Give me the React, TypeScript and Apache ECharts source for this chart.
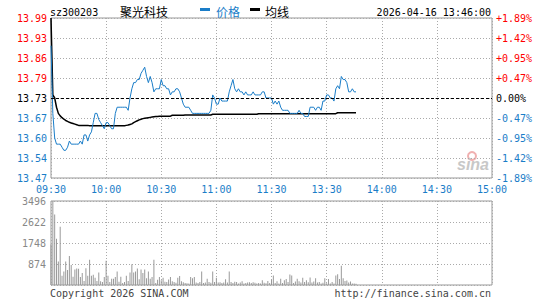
import React, { useEffect, useRef } from "react";
import * as echarts from "echarts";

const stockCode = "sz300203";
const stockName = "聚光科技";
const legendPrice = "价格";
const legendAvg = "均线";
const timestamp = "2026-04-16 13:46:00";
const copyrightText = "Copyright 2026 SINA.COM";
const siteText = "http://finance.sina.com.cn";
const prevClose = 13.73;
const tickStep = 0.065;
const priceTickLabels = ["13.47", "13.54", "13.60", "13.67", "13.73", "13.79", "13.86", "13.93", "13.99"];
const pctTickLabels = ["-1.89%", "-1.42%", "-0.95%", "-0.47%", "0.00%", "+0.47%", "+0.95%", "+1.42%", "+1.89%"];
const timeTickLabels = ["09:30", "10:00", "10:30", "11:00", "11:30", "13:30", "14:00", "14:30", "15:00"];
const volumeMax = 3496;
const volumeInterval = 874;

const prices = [
  13.90, 13.68, 13.60, 13.58, 13.58, 13.58, 13.57, 13.56, 13.56, 13.57,
  13.59, 13.58, 13.58, 13.58, 13.58, 13.58, 13.59, 13.58, 13.61, 13.61,
  13.59, 13.61, 13.62, 13.65, 13.68, 13.68, 13.66, 13.65, 13.64, 13.63,
  13.65, 13.65, 13.64, 13.63, 13.63, 13.68, 13.70, 13.70, 13.70, 13.70,
  13.70, 13.70, 13.69, 13.73, 13.76, 13.78, 13.78, 13.79, 13.79, 13.81,
  13.82, 13.83, 13.80, 13.78, 13.80, 13.78, 13.75, 13.76, 13.76, 13.76,
  13.79, 13.77, 13.77, 13.76, 13.76, 13.74, 13.75, 13.75, 13.76, 13.76,
  13.75, 13.73, 13.71, 13.70, 13.70, 13.70, 13.69, 13.68, 13.68, 13.68,
  13.68, 13.68, 13.68, 13.68, 13.68, 13.68, 13.68, 13.69, 13.74, 13.73,
  13.71, 13.71, 13.73, 13.72, 13.72, 13.72, 13.72, 13.75, 13.77, 13.79,
  13.76, 13.75, 13.76, 13.75, 13.75, 13.74, 13.75, 13.74, 13.74, 13.74,
  13.75, 13.74, 13.74, 13.74, 13.74, 13.75, 13.75, 13.73, 13.73, 13.73,
  13.73, 13.71, 13.72, 13.71, 13.72, 13.70, 13.69, 13.69, 13.69, 13.69,
  13.68, 13.68, 13.68, 13.68, 13.68, 13.69, 13.68, 13.68, 13.67, 13.67,
  13.67, 13.70, 13.70, 13.70, 13.69, 13.70, 13.70, 13.69, 13.72, 13.72,
  13.74, 13.74, 13.73, 13.73, 13.72, 13.76, 13.77, 13.76, 13.80, 13.79,
  13.79, 13.78, 13.75, 13.75, 13.76, 13.75, 13.75,
];

const avgPrices = [
  13.99, 13.74, 13.73, 13.70, 13.68, 13.672, 13.666, 13.661, 13.657, 13.654,
  13.651, 13.649, 13.647, 13.645, 13.643, 13.641, 13.641, 13.641, 13.641, 13.641,
  13.641, 13.640, 13.640, 13.640, 13.640, 13.640, 13.640, 13.640, 13.640, 13.640,
  13.640, 13.640, 13.640, 13.640, 13.640, 13.640, 13.640, 13.640, 13.640, 13.640,
  13.640, 13.641, 13.642, 13.644, 13.646, 13.650, 13.653, 13.656, 13.659, 13.661,
  13.663, 13.664, 13.665, 13.666, 13.667, 13.668, 13.669, 13.670, 13.670, 13.671,
  13.671, 13.671, 13.671, 13.671, 13.671, 13.671, 13.674, 13.674, 13.674, 13.674,
  13.674, 13.674, 13.674, 13.675, 13.675, 13.675, 13.675, 13.675, 13.675, 13.675,
  13.675, 13.675, 13.675, 13.675, 13.675, 13.675, 13.675, 13.675, 13.677, 13.677,
  13.677, 13.677, 13.677, 13.677, 13.677, 13.677, 13.677, 13.677, 13.677, 13.677,
  13.677, 13.677, 13.677, 13.677, 13.677, 13.677, 13.677, 13.677, 13.677, 13.677,
  13.677, 13.677, 13.677, 13.679, 13.679, 13.679, 13.679, 13.679, 13.679, 13.679,
  13.679, 13.679, 13.679, 13.679, 13.679, 13.679, 13.679, 13.679, 13.679, 13.679,
  13.679, 13.679, 13.679, 13.679, 13.679, 13.679, 13.679, 13.679, 13.679, 13.679,
  13.679, 13.679, 13.679, 13.679, 13.679, 13.679, 13.679, 13.679, 13.679, 13.679,
  13.679, 13.679, 13.679, 13.679, 13.679, 13.679, 13.682, 13.682, 13.682, 13.682,
  13.682, 13.682, 13.682, 13.682, 13.682, 13.682, 13.682,
];

const volumes = [
  1690, 3496, 2930, 1930, 980, 2420, 380, 560, 980, 620,
  1210, 830, 340, 640, 690, 680, 330, 500, 170, 700,
  380, 1050, 380, 430, 300, 170, 520, 160, 120, 330,
  1010, 380, 120, 260, 260, 330, 560, 140, 340, 80,
  120, 380, 170, 520, 860, 520, 560, 690, 240, 640,
  500, 640, 280, 560, 260, 330, 1050, 80, 220, 330,
  200, 300, 140, 120, 230, 330, 160, 120, 90, 300,
  370, 160, 110, 80, 70, 60, 330, 280, 330, 100,
  80, 120, 560, 80, 100, 260, 120, 90, 560, 120,
  300, 100, 110, 80, 100, 240, 100, 560, 120, 80,
  140, 120, 60, 100, 160, 60, 80, 100, 110, 80,
  110, 90, 60, 80, 60, 200, 90, 70, 170, 80,
  230, 400, 80, 160, 60, 260, 80, 200, 250, 120,
  440, 400, 80, 150, 260, 160, 100, 300, 120, 200,
  110, 310, 100, 150, 280, 100, 120, 60, 90, 280,
  70, 250, 60, 120, 60, 400, 450, 250, 800, 280,
  170, 190, 100, 150, 60, 60, 50,
];

const BLUE = "#1a7dc8";
const RED = "#ff0000";
const MONO = "'DejaVu Sans Mono', monospace";
const CJK = "'Noto Sans CJK SC', sans-serif";

export default function App() {
  const ref = useRef<HTMLDivElement>(null);

  useEffect(() => {
    if (!ref.current) return;
    const chart = echarts.init(ref.current, undefined, { renderer: "svg" });
    const toY = (p: number) => (p - prevClose) / tickStep;
    const dotted = { color: "#aaa", type: [1, 2], width: 1 };
    const richStyles = {
      r: { color: RED, fontFamily: MONO, fontSize: 10 },
      k: { color: "#000", fontFamily: MONO, fontSize: 10 },
      b: { color: BLUE, fontFamily: MONO, fontSize: 10 },
    };
    const styleKey = (v: number) => (v > 0.5 ? "r" : v < -0.5 ? "b" : "k");

    const txt = (x: number, y: number, text: string, fill: string, font: string, align = "left") => ({
      type: "text",
      x,
      y,
      silent: true,
      style: {
        text,
        fill,
        font,
        align,
        textAlign: align,
        verticalAlign: "middle",
        textVerticalAlign: "middle",
      },
    });

    const option = {
      animation: false,
      grid: [
        { left: 51, top: 18, width: 441, height: 160, show: true, borderColor: "#999", borderWidth: 1 },
        { left: 51, top: 201, width: 441, height: 84, show: true, borderColor: "#999", borderWidth: 1 },
      ],
      xAxis: [
        {
          type: "value",
          gridIndex: 0,
          min: 0,
          max: 240,
          interval: 30,
          axisLine: { show: false },
          axisTick: { show: false },
          axisLabel: {
            show: true,
            margin: 6,
            showMinLabel: true,
            showMaxLabel: true,
            color: BLUE,
            fontFamily: MONO,
            fontSize: 10,
            formatter: (v: number) => timeTickLabels[Math.round(v / 30)] ?? "",
          },
          splitLine: { show: true, lineStyle: dotted },
        },
        {
          type: "value",
          gridIndex: 1,
          min: 0,
          max: 240,
          interval: 30,
          axisLine: { show: false },
          axisTick: { show: false },
          axisLabel: { show: false },
          splitLine: { show: true, lineStyle: dotted },
        },
      ],
      yAxis: [
        {
          type: "value",
          gridIndex: 0,
          min: -4,
          max: 4,
          interval: 1,
          axisLine: { show: false },
          axisTick: { show: false },
          axisLabel: {
            margin: 4,
            showMinLabel: true,
            showMaxLabel: true,
            formatter: (v: number) => `{${styleKey(v)}|${priceTickLabels[Math.round(v) + 4]}}`,
            rich: richStyles,
          },
          splitLine: { show: true, lineStyle: dotted },
        },
        {
          type: "value",
          gridIndex: 0,
          position: "right",
          min: -4,
          max: 4,
          interval: 1,
          axisLine: { show: false },
          axisTick: { show: false },
          axisLabel: {
            margin: 4,
            showMinLabel: true,
            showMaxLabel: true,
            formatter: (v: number) => `{${styleKey(v)}|${pctTickLabels[Math.round(v) + 4]}}`,
            rich: richStyles,
          },
          splitLine: { show: false },
        },
        {
          type: "value",
          gridIndex: 1,
          min: 0,
          max: volumeMax,
          interval: volumeInterval,
          axisLine: { show: false },
          axisTick: { show: false },
          axisLabel: {
            margin: 5,
            showMaxLabel: true,
            color: "#888",
            fontFamily: MONO,
            fontSize: 10,
            formatter: (v: number) => (v === 0 ? "" : String(v)),
          },
          splitLine: { show: true, lineStyle: dotted },
        },
      ],
      series: [
        {
          type: "line",
          name: legendAvg,
          xAxisIndex: 0,
          yAxisIndex: 0,
          data: avgPrices.map((p, i) => [i, toY(p)]),
          showSymbol: false,
          symbol: "none",
          lineStyle: { color: "#000", width: 1.5 },
          z: 3,
        },
        {
          type: "line",
          name: legendPrice,
          xAxisIndex: 0,
          yAxisIndex: 0,
          data: prices.map((p, i) => [i, toY(p)]),
          showSymbol: false,
          symbol: "none",
          lineStyle: { color: BLUE, width: 1 },
          z: 4,
          markLine: {
            silent: true,
            symbol: ["none", "none"],
            label: { show: false },
            lineStyle: { color: "#000", type: [3, 2], width: 1 },
            data: [{ yAxis: 0 }],
          },
        },
        {
          type: "bar",
          xAxisIndex: 1,
          yAxisIndex: 2,
          data: volumes.map((v, i) => [i, v]),
          barWidth: 1,
          itemStyle: { color: "#999" },
        },
      ],
      graphic: [
        txt(50, 12, stockCode, "#000", `10px ${MONO}`),
        txt(120, 11, stockName, "#000", `12px ${CJK}`),
        { type: "rect", silent: true, shape: { x: 200, y: 8, width: 10, height: 3 }, style: { fill: BLUE } },
        txt(216, 11, legendPrice, BLUE, `12px ${CJK}`),
        { type: "rect", silent: true, shape: { x: 250, y: 8, width: 10, height: 3 }, style: { fill: "#000" } },
        txt(265, 11, legendAvg, "#000", `12px ${CJK}`),
        txt(491, 12, timestamp, "#000", `10px ${MONO}`, "right"),
        txt(50, 293, copyrightText, "#444", `10px ${MONO}`),
        txt(491, 293, siteText, "#444", `10px ${MONO}`, "right"),
        {
          type: "circle",
          silent: true,
          shape: { cx: 472, cy: 156, r: 4 },
          style: { fill: "none", stroke: "#f0b0b0", lineWidth: 2 },
        },
        txt(457, 164, "sina", "#c8c8c8", `italic bold 16px 'Liberation Sans', sans-serif`),
      ],
    };

    chart.setOption(option as any);
    return () => chart.dispose();
  }, []);

  return <div ref={ref} style={{ position: "absolute", left: 0, top: 0, width: 545, height: 300 }} />;
}
